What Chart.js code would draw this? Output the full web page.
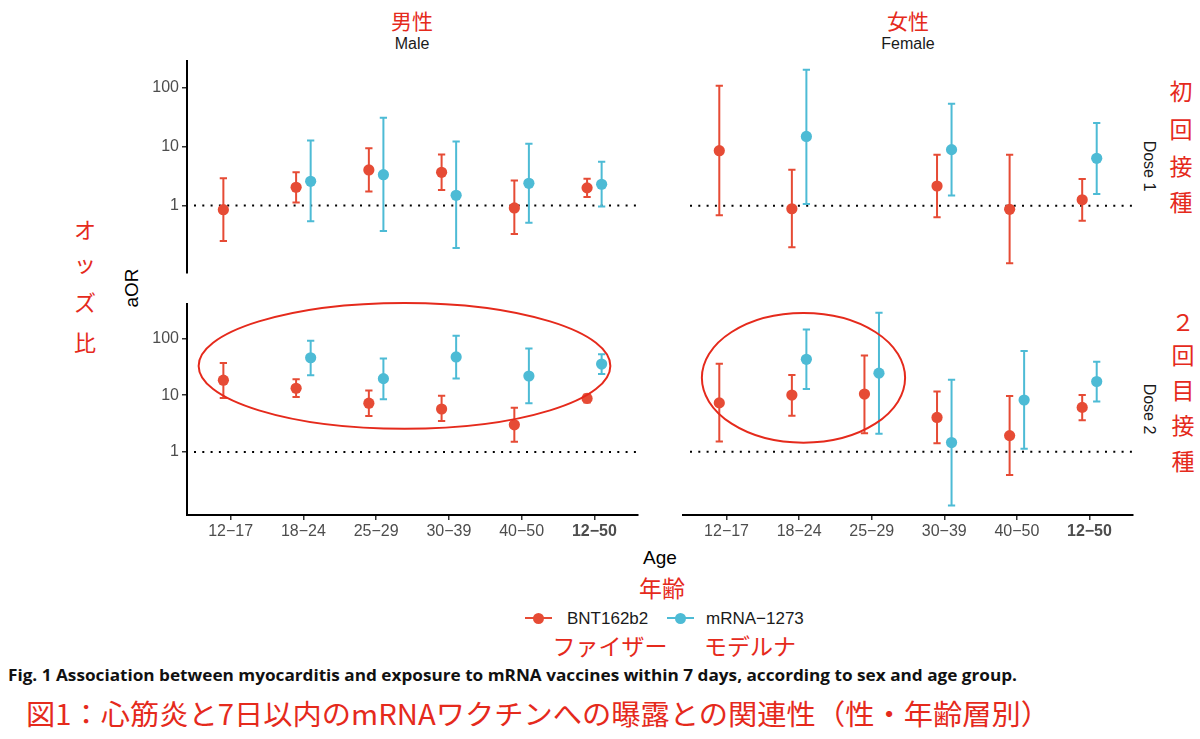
<!DOCTYPE html>
<html>
<head>
<meta charset="utf-8">
<script src="https://cdn.jsdelivr.net/npm/chart.js@4.4.0/dist/chart.umd.min.js"></script>
<style>
  body { margin: 0; width: 1200px; height: 739px; background: #fff; position: relative; overflow: hidden;
         font-family: "Liberation Sans", Arial, sans-serif; }
  canvas { position: absolute; }
  .t { position: absolute; white-space: nowrap; line-height: 1; transform: translate(-50%, -50%); }
  .jp { font-family: "Noto Sans CJK JP", sans-serif; color: #e52a1c; }
  .strip { font-size: 16px; color: #1a1a1a; }
  .title { font-size: 19px; color: #000; }
  .key-line { position: absolute; height: 2px; }
  .key-dot { position: absolute; width: 11px; height: 11px; border-radius: 50%; }
  .cap { position: absolute; white-space: nowrap; line-height: 1; transform-origin: 0 50%; }
</style>
</head>
<body>

<div class="t jp" style="left:412px;top:20px;font-size:21px">男性</div>
<div class="t strip" style="left:412px;top:44px">Male</div>
<div class="t jp" style="left:908px;top:20px;font-size:21px">女性</div>
<div class="t strip" style="left:908px;top:44px">Female</div>

<div class="t strip" style="left:1149px;top:166px;transform:translate(-50%,-50%) rotate(90deg)">Dose 1</div>
<div class="t strip" style="left:1149px;top:409px;transform:translate(-50%,-50%) rotate(90deg)">Dose 2</div>

<div id="rightNotes"></div>
<div id="leftNotes"></div>

<div class="t title" style="left:131px;top:288px;transform:translate(-50%,-50%) rotate(-90deg)">aOR</div>
<div class="t title" style="left:660px;top:557px">Age</div>
<div class="t jp" style="left:662px;top:587px;font-size:23px">年齢</div>

<div class="key-line" style="left:525px;top:617px;width:27px;background:#E64B35"></div>
<div class="key-dot" style="left:533px;top:612.5px;background:#E64B35"></div>
<div class="t" style="left:567px;top:618px;font-size:17px;color:#1a1a1a;transform:translate(0,-50%)">BNT162b2</div>
<div class="key-line" style="left:667px;top:617px;width:27px;background:#4DBBD5"></div>
<div class="key-dot" style="left:675px;top:612.5px;background:#4DBBD5"></div>
<div class="t" style="left:706px;top:618px;font-size:17px;color:#1a1a1a;transform:translate(0,-50%)">mRNA−1273</div>
<div class="t jp" style="left:610px;top:645px;font-size:23px">ファイザー</div>
<div class="t jp" style="left:750px;top:645px;font-size:23px">モデルナ</div>

<div id="capEn" class="cap" style="left:8px;top:675px;font-family:'Open Sans',sans-serif;font-weight:700;font-size:16px;color:#111">Fig. 1 Association between myocarditis and exposure to mRNA vaccines within 7 days, according to sex and age group.</div>
<div id="capJp" class="cap jp" style="left:26px;top:713px;font-size:28px">図1：心筋炎と7日以内のmRNAワクチンへの曝露との関連性（性・年齢層別）</div>

<script>
// Age groups on the x axis
const ageGroups = ['12−17', '18−24', '25−29', '30−39', '40−50', '12−50'];
const yTicks = [1, 10, 100];
const dose1Range = [0.0736, 285];
const dose2Range = [0.0774, 409];

// Male, dose 1
const bntMaleD1 = [0.85, 2.04, 4.0, 3.65, 0.91, 1.99];
const bntMaleD1Lo = [0.25, 1.12, 1.72, 1.84, 0.33, 1.40];
const bntMaleD1Hi = [2.9, 3.65, 9.3, 7.3, 2.64, 2.85];
const mrnaMaleD1 = [null, 2.57, 3.33, 1.49, 2.38, 2.29];
const mrnaMaleD1Lo = [null, 0.54, 0.37, 0.19, 0.51, 0.96];
const mrnaMaleD1Hi = [null, 12.6, 30.8, 12.2, 11.1, 5.5];

// Female, dose 1
const bntFemaleD1 = [8.46, 0.89, null, 2.15, 0.87, 1.26];
const bntFemaleD1Lo = [0.69, 0.2, null, 0.64, 0.107, 0.56];
const bntFemaleD1Hi = [105, 4.05, null, 7.25, 7.2, 2.82];
const mrnaFemaleD1 = [null, 14.7, null, 8.8, null, 6.3];
const mrnaFemaleD1Lo = [null, 1.07, null, 1.49, null, 1.57];
const mrnaFemaleD1Hi = [null, 196, null, 52, null, 24.8];

// Male, dose 2
const bntMaleD2 = [18.3, 13.2, 7.2, 5.7, 3.0, 8.75];
const bntMaleD2Lo = [8.9, 9.3, 4.3, 3.5, 1.51, 7.4];
const bntMaleD2Hi = [36.6, 19, 12.1, 9.7, 6.0, 10.3];
const mrnaMaleD2 = [null, 45.5, 19.5, 47, 21.7, 35.2];
const mrnaMaleD2Lo = [null, 22.3, 8.5, 19.6, 7.2, 23.6];
const mrnaMaleD2Hi = [null, 91, 44, 111, 66, 52.7];

// Female, dose 2
const bntFemaleD2 = [7.2, 9.9, 10.3, 4.0, 1.92, 6.0];
const bntFemaleD2Lo = [1.51, 4.3, 2.1, 1.41, 0.39, 3.57];
const bntFemaleD2Hi = [35, 22.3, 49, 11.4, 9.5, 9.9];
const mrnaFemaleD2 = [null, 42, 24, 1.45, 8.1, 17.1];
const mrnaFemaleD2Lo = [null, 12.6, 2.06, 0.114, 1.13, 7.6];
const mrnaFemaleD2Hi = [null, 140, 277, 18.3, 58.6, 38];

const RED = '#E64B35';
const BLUE = '#4DBBD5';
const NOTE_RED = '#e52a1c';
const FONT = '"Liberation Sans", Arial, sans-serif';
const PAD = 12;
const Y_AXIS_W = 50;
const X_AXIS_H = 40;

// Red vertical notes on the sides
function verticalNote(parent, chars, x, ys, size) {
  chars.forEach((c, i) => {
    const d = document.createElement('div');
    d.className = 't jp';
    d.style.cssText = `left:${x}px;top:${ys[i]}px;font-size:${size}px`;
    d.textContent = c;
    document.getElementById(parent).appendChild(d);
  });
}
verticalNote('rightNotes', ['初', '回', '接', '種'], 1181, [90, 128, 165, 201], 23);
verticalNote('rightNotes', ['２', '回', '目', '接', '種'], 1183, [321, 354, 389, 424, 460], 23);
verticalNote('leftNotes', ['オ', 'ッ', 'ズ', '比'], 85, [228, 262, 301, 341], 22);

// Error bars, reference line at 1 and highlight rings
const errorBars = {
  id: 'errorBars',
  beforeDatasetsDraw(chart) {
    const { ctx, chartArea, scales: { x, y } } = chart;
    const y1 = y.getPixelForValue(1);
    ctx.save();
    ctx.strokeStyle = '#000';
    ctx.lineWidth = 2;
    ctx.setLineDash([2, 6.3]);
    ctx.beginPath();
    ctx.moveTo(chartArea.left + 7, y1);
    ctx.lineTo(chartArea.right, y1);
    ctx.stroke();
    ctx.setLineDash([]);

    const half = Math.abs(x.getPixelForValue(0.05) - x.getPixelForValue(0));
    chart.data.datasets.forEach(ds => {
      ctx.strokeStyle = ds.borderColor;
      ctx.lineWidth = 2;
      ds.lo.forEach((lo, i) => {
        if (lo == null) return;
        const px = x.getPixelForValue(i + ds.dodge);
        const top = y.getPixelForValue(ds.hi[i]);
        const bot = y.getPixelForValue(lo);
        ctx.beginPath();
        ctx.moveTo(px, top); ctx.lineTo(px, bot);
        ctx.moveTo(px - half, top); ctx.lineTo(px + half, top);
        ctx.moveTo(px - half, bot); ctx.lineTo(px + half, bot);
        ctx.stroke();
      });
    });
    ctx.restore();
  },
  afterDatasetsDraw(chart, args, opts) {
    if (!opts.ring) return;
    const { ctx, scales: { x, y } } = chart;
    const r = opts.ring;
    const cx = x.getPixelForValue(r.x);
    const rx = Math.abs(x.getPixelForValue(r.x + r.rx) - cx);
    const yTop = y.getPixelForValue(r.yHi);
    const yBot = y.getPixelForValue(r.yLo);
    ctx.save();
    ctx.strokeStyle = NOTE_RED;
    ctx.lineWidth = 2;
    ctx.beginPath();
    ctx.ellipse(cx, (yTop + yBot) / 2, rx, Math.abs(yBot - yTop) / 2, 0, 0, Math.PI * 2);
    ctx.stroke();
    ctx.restore();
  }
};

function series(label, color, dodge, or, lo, hi) {
  const pts = [];
  or.forEach((v, i) => { if (v != null) pts.push({ x: i + dodge, y: v }); });
  return {
    label, data: pts, lo, hi, dodge,
    borderColor: color, backgroundColor: color,
    pointRadius: 5.6, pointBorderWidth: 0, showLine: false
  };
}

function makePanel(area, showY, showX, range, datasets, ring) {
  const [left, top, right, bottom] = area;
  const w = right - left + 2 * PAD + (showY ? Y_AXIS_W : 0);
  const h = bottom - top + 2 * PAD + (showX ? X_AXIS_H : 0);
  const cv = document.createElement('canvas');
  cv.width = w; cv.height = h;
  cv.style.width = w + 'px'; cv.style.height = h + 'px';
  cv.style.left = (left - PAD - (showY ? Y_AXIS_W : 0)) + 'px';
  cv.style.top = (top - PAD) + 'px';
  document.body.appendChild(cv);

  new Chart(cv, {
    type: 'scatter',
    data: { datasets },
    options: {
      responsive: false,
      animation: false,
      events: [],
      layout: { padding: PAD, autoPadding: false },
      plugins: { legend: { display: false }, tooltip: { enabled: false }, errorBars: { ring } },
      scales: {
        x: {
          type: 'linear', min: -0.6, max: 5.6,
          display: showX,
          afterBuildTicks: s => { s.ticks = ageGroups.map((_, i) => ({ value: i })); },
          afterFit: s => { s.height = showX ? X_AXIS_H : 0; },
          border: { display: true, color: '#000', width: 2 },
          grid: { drawOnChartArea: false, drawTicks: true, tickLength: 5, color: '#333', lineWidth: 1.5 },
          ticks: {
            color: '#4d4d4d', padding: 2, maxRotation: 0, autoSkip: false,
            font: c => ({ family: FONT, size: 16, weight: c.index === 5 ? 'bold' : 'normal' }),
            callback: v => ageGroups[v]
          }
        },
        y: {
          type: 'logarithmic', min: range[0], max: range[1],
          display: showY,
          afterBuildTicks: s => { s.ticks = yTicks.map(v => ({ value: v })); },
          afterFit: s => { s.width = showY ? Y_AXIS_W : 0; },
          border: { display: true, color: '#000', width: 2 },
          grid: { drawOnChartArea: false, drawTicks: true, tickLength: 5, color: '#333', lineWidth: 1.5 },
          ticks: { color: '#4d4d4d', padding: 3, font: { family: FONT, size: 16 }, callback: v => String(v) }
        }
      }
    },
    plugins: [errorBars]
  });
}

makePanel([187, 60, 638, 273], true, false, dose1Range, [
  series('BNT162b2', RED, -0.1, bntMaleD1, bntMaleD1Lo, bntMaleD1Hi),
  series('mRNA-1273', BLUE, 0.1, mrnaMaleD1, mrnaMaleD1Lo, mrnaMaleD1Hi)
]);
makePanel([683, 60, 1133, 273], false, false, dose1Range, [
  series('BNT162b2', RED, -0.1, bntFemaleD1, bntFemaleD1Lo, bntFemaleD1Hi),
  series('mRNA-1273', BLUE, 0.1, mrnaFemaleD1, mrnaFemaleD1Lo, mrnaFemaleD1Hi)
]);
makePanel([187, 303, 638, 515], true, true, dose2Range, [
  series('BNT162b2', RED, -0.1, bntMaleD2, bntMaleD2Lo, bntMaleD2Hi),
  series('mRNA-1273', BLUE, 0.1, mrnaMaleD2, mrnaMaleD2Lo, mrnaMaleD2Hi)
], { x: 2.39, rx: 2.83, yLo: 2.55, yHi: 420 });
makePanel([683, 303, 1133, 515], false, true, dose2Range, [
  series('BNT162b2', RED, -0.1, bntFemaleD2, bntFemaleD2Lo, bntFemaleD2Hi),
  series('mRNA-1273', BLUE, 0.1, mrnaFemaleD2, mrnaFemaleD2Lo, mrnaFemaleD2Hi)
], { x: 1.06, rx: 1.40, yLo: 1.44, yHi: 273 });

// Stretch captions to the width they take in the figure
function fitWidth(id, target) {
  const el = document.getElementById(id);
  const w = el.getBoundingClientRect().width;
  el.style.transform = `translateY(-50%) scaleX(${target / w})`;
}
document.fonts.ready.then(() => {
  fitWidth('capEn', 1009);
  fitWidth('capJp', 1024);
});
</script>
</body>
</html>
